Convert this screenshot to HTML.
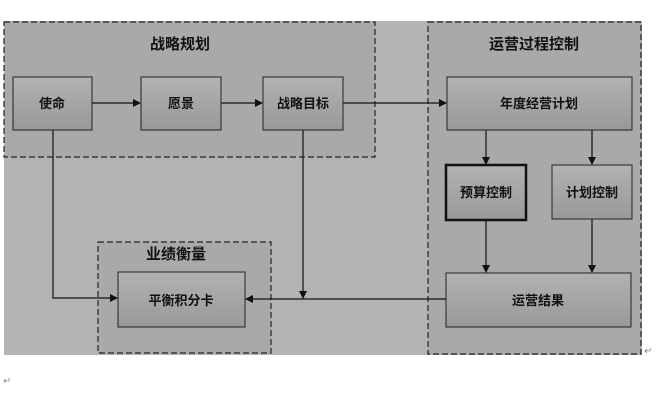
<!DOCTYPE html>
<html><head><meta charset="utf-8"><style>
body{margin:0;background:#fff;width:659px;height:418px;overflow:hidden;font-family:"Liberation Sans","Noto Sans CJK SC",sans-serif}
</style></head><body>
<svg width="659" height="418" xmlns="http://www.w3.org/2000/svg" style="position:absolute;left:0;top:0">
<defs>
<linearGradient id="g" x1="0" y1="0" x2="0" y2="1"><stop offset="0" stop-color="#b2b2b2"/><stop offset="1" stop-color="#999"/></linearGradient>
<marker id="a" markerWidth="8" markerHeight="8" refX="7" refY="4" orient="auto" markerUnits="userSpaceOnUse"><path d="M0,0 L8,4 L0,8 z" fill="#111"/></marker>
</defs>
<rect x="4" y="21" width="638" height="334" fill="#b3b3b3"/>
<rect x="4" y="22" width="371" height="135" fill="#a9a9a9" stroke="#222" stroke-dasharray="6,3" stroke-width="1.2"/>
<rect x="428" y="22" width="213" height="332" fill="#a9a9a9" stroke="#222" stroke-dasharray="6,3" stroke-width="1.2"/>
<rect x="98" y="242" width="173" height="111" fill="#a9a9a9" stroke="#222" stroke-dasharray="6,3" stroke-width="1.2"/>
<g stroke="#111" stroke-width="1.2" fill="none">
<line x1="92" y1="103" x2="140" y2="103" marker-end="url(#a)"/>
<line x1="221" y1="103" x2="262" y2="103" marker-end="url(#a)"/>
<line x1="343" y1="103" x2="446" y2="103" marker-end="url(#a)"/>
<polyline points="53,130 53,298 117,298" marker-end="url(#a)"/>
<line x1="303" y1="130" x2="303" y2="298" marker-end="url(#a)"/>
<line x1="446" y1="299" x2="246" y2="299" marker-end="url(#a)"/>
<line x1="486" y1="130" x2="486" y2="164" marker-end="url(#a)"/>
<line x1="592" y1="130" x2="592" y2="164" marker-end="url(#a)"/>
<line x1="486" y1="220" x2="486" y2="272" marker-end="url(#a)"/>
<line x1="592" y1="219" x2="592" y2="272" marker-end="url(#a)"/>
</g>
<g fill="url(#g)" stroke="#222" stroke-width="1">
<rect x="13" y="77" width="79" height="53"/>
<rect x="141" y="77" width="80" height="53"/>
<rect x="263" y="77" width="80" height="53"/>
<rect x="447" y="77" width="185" height="53"/>
<rect x="446" y="165" width="80" height="55" stroke-width="2.5" stroke="#111"/>
<rect x="552" y="165" width="80" height="54"/>
<rect x="446" y="273" width="185" height="54"/>
<rect x="118" y="272" width="127" height="55"/>
</g>
<g font-family="'Liberation Sans','Noto Sans CJK SC',sans-serif" font-weight="bold" fill="#111" text-anchor="middle">
<text x="180" y="49" font-size="15">战略规划</text>
<text x="534" y="49" font-size="15">运营过程控制</text>
<text x="176" y="259" font-size="15">业绩衡量</text>
<text x="52" y="108" font-size="13">使命</text>
<text x="181" y="108" font-size="13">愿景</text>
<text x="303" y="108" font-size="13">战略目标</text>
<text x="539" y="108" font-size="13">年度经营计划</text>
<text x="486" y="197" font-size="13">预算控制</text>
<text x="592" y="197" font-size="13">计划控制</text>
<text x="538" y="305" font-size="13">运营结果</text>
<text x="181" y="305" font-size="13">平衡积分卡</text>
</g>
<text x="644" y="354" font-size="10" fill="#888">↵</text>
<text x="3" y="384" font-size="10" fill="#888">↵</text>
</svg>
</body></html>
